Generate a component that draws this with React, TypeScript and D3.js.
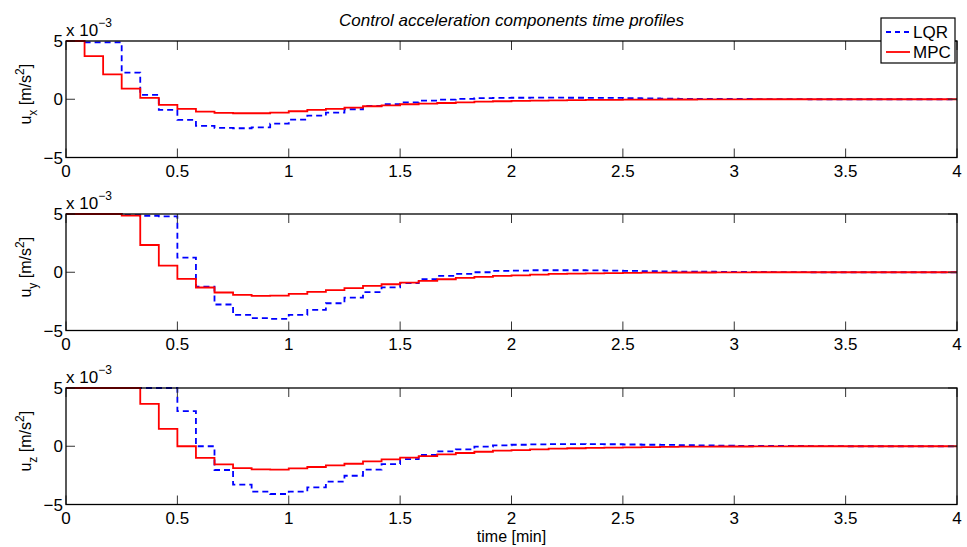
import React from "react";
import * as d3 from "d3";

// sample period: 5 s = 1/12 min, 48 samples over 4 min
const STEP_MIN = 1 / 12;
const xTicks = [0, 0.5, 1, 1.5, 2, 2.5, 3, 3.5, 4];
const yTicks = [-5, 0, 5];
const yTickLabels = ["\u22125", "0", "5"];
const seriesNames = ["LQR", "MPC"];
const panelLabels = ["x", "y", "z"];

// values in units of 1e-3 m/s^2
const uxLQR = [5, 4.88, 4.88, 2.29, 0.37, -0.91, -1.77, -2.29, -2.46, -2.49, -2.41, -2.1, -1.75, -1.41, -1.15, -0.86, -0.57, -0.43, -0.26, -0.11, -0.03, 0.03, 0.09, 0.11, 0.13, 0.14, 0.14, 0.13, 0.12, 0.11, 0.09, 0.07, 0.06, 0.04, 0.03, 0.02, 0.02, 0.01, 0.01, 0.01, 0, 0, 0, 0, 0, 0, 0, 0];
const uxMPC = [5, 3.7, 2.14, 0.91, 0.11, -0.49, -0.83, -1.06, -1.17, -1.2, -1.2, -1.15, -1.03, -0.92, -0.83, -0.72, -0.6, -0.52, -0.43, -0.37, -0.32, -0.26, -0.2, -0.17, -0.14, -0.11, -0.09, -0.07, -0.06, -0.05, -0.04, -0.03, -0.02, -0.02, -0.01, -0.01, -0.01, 0, 0, 0, 0, 0, 0, 0, 0, 0, 0, 0];
const uyLQR = [5, 5, 5, 4.9, 4.85, 4.8, 1.26, -1.23, -2.77, -3.66, -3.94, -4.0, -3.66, -3.23, -2.66, -2.17, -1.71, -1.29, -0.94, -0.6, -0.31, -0.14, 0, 0.11, 0.14, 0.17, 0.17, 0.17, 0.16, 0.14, 0.12, 0.1, 0.08, 0.06, 0.05, 0.04, 0.03, 0.02, 0.01, 0.01, 0, 0, 0, 0, 0, 0, 0, 0];
const uyMPC = [5, 5, 5, 4.86, 2.34, 0.57, -0.57, -1.31, -1.74, -1.94, -2.03, -2.0, -1.86, -1.69, -1.54, -1.37, -1.17, -1.03, -0.89, -0.74, -0.6, -0.49, -0.4, -0.31, -0.26, -0.2, -0.14, -0.11, -0.09, -0.07, -0.05, -0.04, -0.03, -0.02, -0.02, -0.01, -0.01, 0, 0, 0, 0, 0, 0, 0, 0, 0, 0, 0];
const uzLQR = [5, 5, 5, 5, 5, 5, 3.01, 0, -2.04, -3.3, -3.9, -4.1, -3.9, -3.53, -3.04, -2.53, -2.01, -1.53, -1.1, -0.75, -0.44, -0.27, -0.04, 0.07, 0.13, 0.16, 0.19, 0.19, 0.18, 0.17, 0.15, 0.13, 0.11, 0.09, 0.07, 0.05, 0.04, 0.03, 0.02, 0.02, 0.01, 0.01, 0, 0, 0, 0, 0, 0];
const uzMPC = [5, 5, 5, 5, 3.64, 1.5, 0, -0.99, -1.56, -1.87, -1.99, -2.0, -1.9, -1.78, -1.64, -1.5, -1.3, -1.13, -0.98, -0.84, -0.7, -0.58, -0.47, -0.38, -0.33, -0.27, -0.21, -0.17, -0.14, -0.11, -0.09, -0.07, -0.05, -0.04, -0.03, -0.02, -0.02, -0.01, -0.01, 0, 0, 0, 0, 0, 0, 0, 0, 0];

const panelsData = [
  { lqr: uxLQR, mpc: uxMPC },
  { lqr: uyLQR, mpc: uyMPC },
  { lqr: uzLQR, mpc: uzMPC },
];

const W = 967;
const H = 547;
const LEFT = 66;
const RIGHT = 957;
const panelTops = [41, 214, 388];
const PANEL_H = 116.5;
const FONT = "'Liberation Sans', Arial, Helvetica, sans-serif";

function toPoints(vals: number[]): [number, number][] {
  const pts: [number, number][] = vals.map((v, k) => [k * STEP_MIN, v]);
  pts.push([vals.length * STEP_MIN, vals[vals.length - 1]]);
  return pts;
}

function Panel({ idx }: { idx: number }) {
  const top = panelTops[idx];
  const bottom = top + PANEL_H;
  const x = d3.scaleLinear().domain([0, 4]).range([LEFT, RIGHT]);
  const y = d3.scaleLinear().domain([-5, 5]).range([bottom, top]);
  const line = d3
    .line<[number, number]>()
    .x((d) => x(d[0]))
    .y((d) => y(d[1]))
    .curve(d3.curveStepAfter);
  const d = panelsData[idx];
  const tickLen = 9;
  const midY = (top + bottom) / 2;
  return (
    <g>
      <rect x={LEFT} y={top} width={RIGHT - LEFT} height={PANEL_H} fill="#fff" />
      <path d={line(toPoints(d.lqr)) || ""} fill="none" stroke="#0000ff" strokeWidth={1.8} strokeDasharray="6,4" />
      <path d={line(toPoints(d.mpc)) || ""} fill="none" stroke="#ff0000" strokeWidth={1.8} />
      {xTicks.map((t) => (
        <g key={"xt" + t}>
          <line x1={x(t)} x2={x(t)} y1={bottom} y2={bottom - tickLen} stroke="#333" strokeWidth={1} />
          <line x1={x(t)} x2={x(t)} y1={top} y2={top + tickLen} stroke="#333" strokeWidth={1} />
          <text x={x(t)} y={bottom + 19} textAnchor="middle" fontSize={17} fontFamily={FONT} fill="#000">
            {String(t)}
          </text>
        </g>
      ))}
      {yTicks.map((t, i) => (
        <g key={"yt" + t}>
          <line x1={LEFT} x2={LEFT + tickLen} y1={y(t)} y2={y(t)} stroke="#333" strokeWidth={1} />
          <line x1={RIGHT} x2={RIGHT - tickLen} y1={y(t)} y2={y(t)} stroke="#333" strokeWidth={1} />
          <text x={LEFT - 3} y={y(t) + 6} textAnchor="end" fontSize={17} fontFamily={FONT} fill="#000">
            {yTickLabels[i]}
          </text>
        </g>
      ))}
      <rect x={LEFT} y={top} width={RIGHT - LEFT} height={PANEL_H} fill="none" stroke="#000" strokeWidth={1.3} />
      <text x={LEFT} y={top - 5} fontSize={17} fontFamily={FONT} fill="#000">
        x 10
        <tspan dy={-9} fontSize={12}>
          {"\u22123"}
        </tspan>
      </text>
      <text
        transform={`translate(31,${midY - 5}) rotate(-90)`}
        textAnchor="middle"
        fontSize={16}
        fontFamily={FONT}
        fill="#000"
      >
        u
        <tspan dy={6} fontSize={12}>
          {panelLabels[idx]}
        </tspan>
        <tspan dy={-6}>{" [m/s"}</tspan>
        <tspan dy={-7} fontSize={12}>
          2
        </tspan>
        <tspan dy={7}>]</tspan>
      </text>
    </g>
  );
}

export default function App() {
  const lx = 881;
  const ly = 18;
  const lw = 74;
  const lh = 45;
  return (
    <svg width={W} height={H} style={{ position: "absolute", left: 0, top: 0, background: "#fff" }}>
      <rect x={0} y={0} width={W} height={H} fill="#fff" />
      {[0, 1, 2].map((i) => (
        <Panel key={i} idx={i} />
      ))}
      <text x={(LEFT + RIGHT) / 2} y={26} textAnchor="middle" fontSize={17} fontStyle="italic" fontFamily={FONT} fill="#000">
        Control acceleration components time profiles
      </text>
      <text x={(LEFT + RIGHT) / 2} y={542} textAnchor="middle" fontSize={16} fontFamily={FONT} fill="#000">
        time [min]
      </text>
      <g>
        <rect x={lx} y={ly} width={lw} height={lh} fill="#fff" stroke="#000" strokeWidth={1.2} />
        <line x1={lx + 5} x2={lx + 29} y1={ly + 14} y2={ly + 14} stroke="#0000ff" strokeWidth={1.8} strokeDasharray="5,4" />
        <text x={lx + 32} y={ly + 20} fontSize={17} fontFamily={FONT} fill="#000">
          {seriesNames[0]}
        </text>
        <line x1={lx + 5} x2={lx + 29} y1={ly + 34} y2={ly + 34} stroke="#ff0000" strokeWidth={1.8} />
        <text x={lx + 32} y={ly + 40} fontSize={17} fontFamily={FONT} fill="#000">
          {seriesNames[1]}
        </text>
      </g>
    </svg>
  );
}
